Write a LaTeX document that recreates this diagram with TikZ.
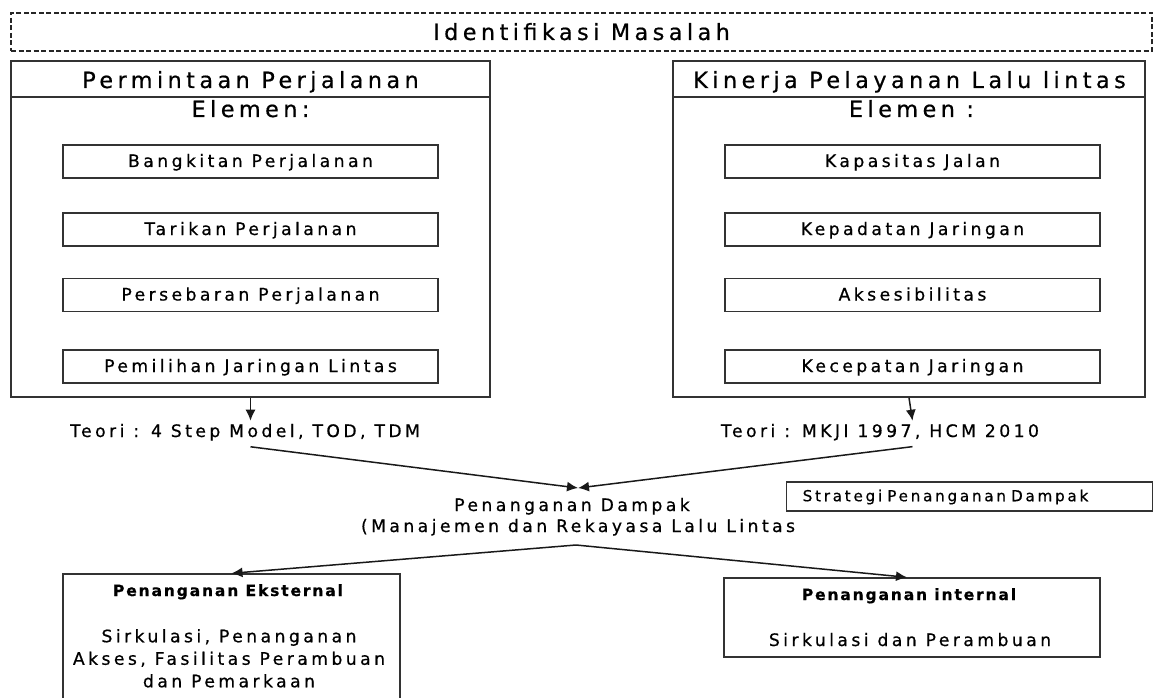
\documentclass[tikz,border=0pt]{standalone}
\usepackage{fontspec}
\setmainfont{DejaVu Sans}[LetterSpace=20, FakeBold=0.6]
\usepackage{tikz}
\usetikzlibrary{arrows.meta,positioning,calc}
\newcommand{\ftitle}{\fontsize{22.3}{26}\selectfont}
\newcommand{\fbody}{\fontsize{17.2}{22.5}\selectfont}
\newcommand{\fsmall}{\fontsize{15.2}{17}\selectfont\addfontfeature{LetterSpace=18}}
\newcommand{\fboldhead}{\fontsize{15.5}{17}\selectfont\bfseries\addfontfeature{LetterSpace=12}}
\tikzset{
  idbox/.style={draw=black!85, dash pattern=on 5pt off 2.5pt, line width=2.2pt},
  groupbox/.style={draw=black!80, line width=1.6pt},
  elembox/.style={draw=black!80, line width=1.4pt, minimum width=375pt,
    minimum height=33pt, inner sep=0pt, font=\fbody, text height=12pt, text depth=1pt},
  resultbox/.style={draw=black!80, line width=1.4pt},
  titletext/.style={font=\ftitle, inner sep=3pt},
  flowtext/.style={font=\fbody, inner sep=3pt, align=center},
  flowarrow/.style={-{Latex[length=11pt,width=10pt]}, line width=1.5pt, draw=black!90}
}
\begin{document}
\begin{tikzpicture}[x=1pt,y=-1pt, every node/.style={text=black}]
  \useasboundingbox (0,0) rectangle (1154,698);
  \clip (0,0) rectangle (1154,698);
  \fill[white] (0,0) rectangle (1154,698);
  % identifikasi
  \node[idbox, minimum width=1141pt, minimum height=38pt] (ident) at (581.5,32) {};
  \node[titletext, anchor=base] (identlab) at (581.5,40) {Identifikasi Masalah};
  % two groups
  \node[groupbox, minimum width=479pt, minimum height=336pt] (demand) at (250.5,229) {};
  \node[groupbox, minimum width=472pt, minimum height=336pt] (perform) at (909,229) {};
  \draw[groupbox] ([yshift=-37pt]demand.north west) -- ([yshift=-37pt]demand.north east);
  \draw[groupbox] ([yshift=-37pt]perform.north west) -- ([yshift=-37pt]perform.north east);
  \node[titletext, anchor=base] (demandlab) at (250.5,88) {Permintaan Perjalanan};
  \node[titletext, anchor=base] (performlab) at (909.5,88) {Kinerja Pelayanan Lalu lintas};
  \node[titletext, anchor=base] (demandel) at (250.5,117) {Elemen:};
  \node[titletext, anchor=base] (performel) at (911.5,117) {Elemen :};
  \foreach \yy/\lab/\nm in {161.5/Bangkitan Perjalanan/bangkitan,
      229.5/Tarikan Perjalanan/tarikan, 295/Persebaran Perjalanan/persebaran,
      366.5/Pemilihan Jaringan Lintas/pemilihan}
    \node[elembox] (\nm) at (250.5,\yy) {\lab};
  \foreach \yy/\lab/\nm in {161.5/Kapasitas Jalan/kapasitas,
      229.5/Kepadatan Jaringan/kepadatan, 295/Aksesibilitas/aksesibilitas,
      366.5/Kecepatan Jaringan/kecepatan}
    \node[elembox] (\nm) at (912.5,\yy) {\lab};
  % teori
  \node[flowtext, anchor=base] (teorileft) at (245,437) {Teori : 4 Step Model, TOD, TDM};
  \node[flowtext, anchor=base] (teoriright) at (880,437) {Teori : MKJI 1997, HCM 2010};
  \draw[flowarrow] (demand.south) -- (demand.south |- teorileft.north);
  \draw[flowarrow] (perform.south) -- ([xshift=3.5pt]perform.south |- teoriright.north);
  % penanganan dampak
  \coordinate (meet) at (578,488);
  \coordinate (split) at (576,545);
  \node[flowtext, anchor=base] (dampak) at (572,511) {Penanganan Dampak};
  \node[flowtext, anchor=base] (dampaksub) at (578,532) {(Manajemen dan Rekayasa Lalu Lintas};
  \draw[flowarrow] ([yshift=-3pt]demand.south |- teorileft.south) -- (meet);
  \draw[flowarrow] ([xshift=3.5pt,yshift=-3pt]perform.south |- teoriright.south) -- (meet);
  \node[draw=black!80, line width=1.4pt, anchor=west, minimum height=29pt,
    text width=334pt, inner xsep=16pt, align=left, font=\fsmall,
    text height=10.5pt, text depth=1pt] (strategi) at (786,496.5) {Strategi Penanganan Dampak};
  % hasil
  \node[resultbox, minimum width=337pt, minimum height=146pt] (ekstern) at (231.5,647) {};
  \node[resultbox, minimum width=376pt, minimum height=79pt] (intern) at (912,617.5) {};
  \node[anchor=base, font=\fboldhead] (eksternlab) at (228,596) {Penanganan Eksternal};
  \node[flowtext, anchor=north] (eksterntext) at (229,626)
    {Sirkulasi, Penanganan\\Akses, Fasilitas Perambuan\\dan Pemarkaan};
  \node[anchor=base, font=\fboldhead] (internlab) at (909,600) {Penanganan internal};
  \node[flowtext, anchor=base] (interntext) at (910,646) {Sirkulasi dan Perambuan};
  \draw[flowarrow] (split) -- (ekstern.north);
  \draw[flowarrow] (split) -- ([xshift=-5pt]intern.north);
\end{tikzpicture}
\end{document}
